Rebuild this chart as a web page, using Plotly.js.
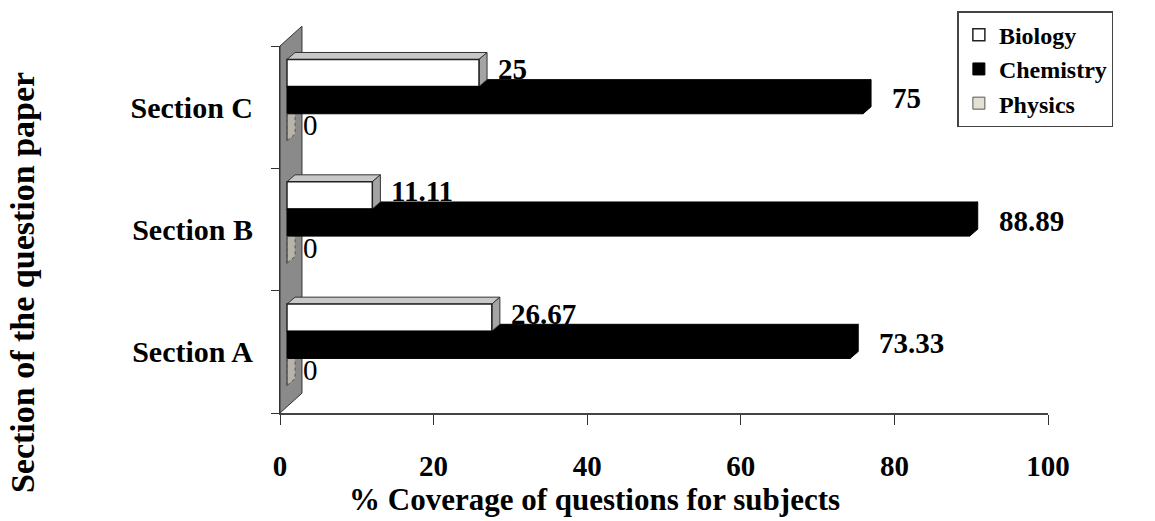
<!DOCTYPE html>
<html>
<head>
<meta charset="utf-8">
<script src="https://cdn.plot.ly/plotly-3.0.1.min.js"></script>
</head>
<body style="margin:0;background:#fff">
<div id="chart" style="width:1155px;height:521px"></div>
<script>
const categories = ['Section A', 'Section B', 'Section C'];
const biology = [26.67, 11.11, 25];
const chemistry = [73.33, 88.89, 75];
const physics = [0, 0, 0];
const seriesNames = ['Biology', 'Chemistry', 'Physics'];
const xTicks = [0, 20, 40, 60, 80, 100];
const xTitle = '% Coverage of questions for subjects';
const yTitle = 'Section of the question paper';

const FONT = 'Liberation Serif';
const idx = categories.map((_, i) => i);
const W = 0.222;                 // bar thickness (category units)
const offsets = [W / 2, -W / 2, -1.5 * W];
const DX = 1.05, DY = 0.057;     // 3D depth in data units

const seriesVals = [biology, chemistry, physics];
const fills = ['#ffffff', '#000000', '#e4e0d4'];
const lines = ['#222222', '#000000', '#555555'];

const traces = [];
traces.push({type: 'scatter', x: categories.map(() => null), y: categories, mode: 'markers',
  marker: {opacity: 0}, showlegend: false, hoverinfo: 'skip', xaxis: 'x', yaxis: 'y'});

seriesVals.forEach((vals, s) => {
  traces.push({
    type: 'bar', orientation: 'h', name: '<b>' + seriesNames[s] + '</b>',
    x: vals, y: idx, width: W, offset: offsets[s],
    xaxis: 'x2', yaxis: 'y2',
    marker: {color: fills[s], line: {color: lines[s], width: s === 0 ? 1.5 : 1}},
    hoverinfo: 'skip'
  });
});

const shapes = [];
shapes.push({type: 'path', xref: 'paper', yref: 'paper', layer: 'below',
  path: 'M 0,0 L 0.0286,0.054 L 0.0286,1.054 L 0,1.0 Z',
  fillcolor: '#8a8a8a', line: {color: '#333', width: 1}});

function faces(vals, s, topCol, endCol, lineCol, dash) {
  vals.forEach((v, i) => {
    const yBot = i + offsets[s];
    const yTop = yBot + W;
    if (v > 0) {
      shapes.push({type: 'path', xref: 'x2', yref: 'y2', layer: 'below',
        path: `M 0,${yTop} L ${v},${yTop} L ${v + DX},${yTop + DY} L ${DX},${yTop + DY} Z`,
        fillcolor: topCol, line: {color: lineCol, width: 1}});
    }
    shapes.push({type: 'path', xref: 'x2', yref: 'y2', layer: 'below',
      path: `M ${v},${yBot} L ${v},${yTop} L ${v + DX},${yTop + DY} L ${v + DX},${yBot + DY} Z`,
      fillcolor: endCol, line: {color: lineCol, width: 1, dash: dash || 'solid'}});
  });
}
faces(chemistry, 1, '#000000', '#000000', '#000000');
faces(physics, 2, '#d6d2c6', '#b8b4aa', '#555555', 'dot');
faces(biology, 0, '#c8c8c8', '#a4a4a4', '#333333');

const annotations = [];
const shifts = [9, 19, 6];
seriesVals.forEach((vals, s) => {
  vals.forEach((v, i) => {
    annotations.push({xref: 'x2', yref: 'y2', x: v + DX, y: i + offsets[s] + W / 2,
      text: s === 2 ? String(v) : '<b>' + v + '</b>', showarrow: false, xanchor: 'left', yanchor: 'middle',
      xshift: shifts[s], yshift: s === 0 ? 4 : 2,
      font: {family: FONT, size: 29, color: '#000'}});
  });
});
annotations.push({xref: 'paper', yref: 'paper', x: 0.409, y: -0.236, text: '<b>' + xTitle + '</b>',
  showarrow: false, xanchor: 'center', yanchor: 'middle', font: {family: FONT, size: 31, color: '#000'}});
annotations.push({xref: 'paper', yref: 'paper', x: -0.335, y: 0.356, text: '<b>' + yTitle + '</b>',
  textangle: -90, showarrow: false, xanchor: 'center', yanchor: 'middle',
  font: {family: FONT, size: 34, color: '#000'}});

const layout = {
  width: 1155, height: 521,
  font: {family: FONT, color: '#000'},
  margin: {l: 280, r: 107, t: 45, b: 108},
  paper_bgcolor: '#fff', plot_bgcolor: 'rgba(0,0,0,0)',
  barmode: 'overlay',
  showlegend: true,
  legend: {x: 0.882, y: 1.092, xanchor: 'left', yanchor: 'top', traceorder: 'normal',
    bgcolor: '#fff', bordercolor: '#444', borderwidth: 1.5, itemwidth: 30,
    font: {family: FONT, size: 24, color: '#000'}},
  xaxis: {range: [0, 100], tickvals: xTicks, ticktext: xTicks.map(t => '<b>' + t + '</b>'),
    showgrid: false, zeroline: false, showline: true, linecolor: '#444', linewidth: 2,
    ticks: 'outside', ticklen: 10, tickcolor: '#333', ticklabelstandoff: 16,
    tickfont: {family: FONT, size: 29, color: '#000'}},
  yaxis: {type: 'category', categoryorder: 'array', categoryarray: categories, range: [-0.5, 2.5],
    tickson: 'boundaries', ticks: 'outside', ticklen: 8, tickcolor: '#333',
    tickvals: categories, ticktext: categories.map(c => '<b>' + c + '</b>'),
    showgrid: false, zeroline: false, showline: true, linecolor: '#333', linewidth: 1,
    ticklabelstandoff: 20,
    tickfont: {family: FONT, size: 30, color: '#000'}},
  xaxis2: {overlaying: 'x', range: [-0.91, 99.09], visible: false},
  yaxis2: {overlaying: 'y', range: [-0.557, 2.443], visible: false},
  shapes: shapes,
  annotations: annotations
};

Plotly.newPlot('chart', traces, layout, {displayModeBar: false});
</script>
</body>
</html>
